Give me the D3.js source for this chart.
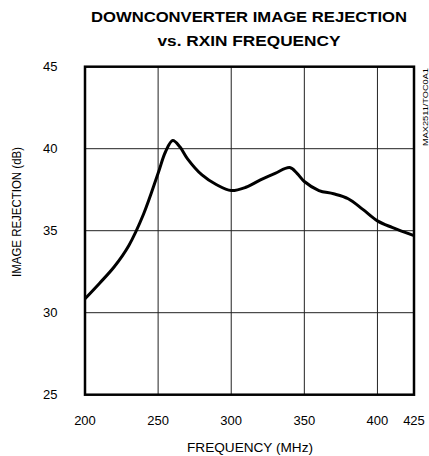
<!DOCTYPE html>
<html><head><meta charset="utf-8">
<script src="https://cdn.jsdelivr.net/npm/d3@7"></script>
<style>body{margin:0;background:#fff}svg{display:block}text{font-family:"Liberation Sans",Arial,sans-serif;fill:#000}</style>
</head><body>
<script>
const freq = [200,210,220,230,240,250,255,260,265,270,280,290,300,310,320,330,340,345,350,360,370,380,390,400,410,425];
const rejection = [30.85,31.8,32.8,34.1,36.0,38.5,39.8,40.5,40.1,39.4,38.4,37.8,37.45,37.65,38.1,38.5,38.85,38.5,38.0,37.45,37.25,36.95,36.3,35.6,35.2,34.7];
const xTicks = [200,250,300,350,400,425];
const yTicks = [25,30,35,40,45];
const titleLines = ["DOWNCONVERTER IMAGE REJECTION","vs. RXIN FREQUENCY"];

const W=429,H=456, L=85,R=414,T=66.7,B=394.7;
const svg=d3.select("body").append("svg").attr("width",W).attr("height",H);
const x=d3.scaleLinear().domain([200,425]).range([L,R]);
const y=d3.scaleLinear().domain([25,45]).range([B,T]);

svg.append("g").selectAll("line.v").data(xTicks.slice(1,-1)).join("line")
 .attr("x1",d=>x(d)).attr("x2",d=>x(d)).attr("y1",T).attr("y2",B).attr("stroke","#222").attr("stroke-width",1);
svg.append("g").selectAll("line.h").data(yTicks.slice(1,-1)).join("line")
 .attr("y1",d=>y(d)).attr("y2",d=>y(d)).attr("x1",L).attr("x2",R).attr("stroke","#222").attr("stroke-width",1);

const line=d3.line().x((d,i)=>x(freq[i])).y(d=>y(d)).curve(d3.curveCatmullRom.alpha(0.5));
svg.append("path").datum(rejection).attr("d",line).attr("fill","none").attr("stroke","#000").attr("stroke-width",3).attr("stroke-linejoin","round");

svg.append("rect").attr("x",L).attr("y",T).attr("width",R-L).attr("height",B-T).attr("fill","none").attr("stroke","#000").attr("stroke-width",2.5);

svg.append("g").selectAll("text").data(yTicks).join("text")
 .attr("x",43).attr("y",d=>y(d)+4.5).attr("font-size",13).text(d=>d);
svg.append("g").selectAll("text").data(xTicks).join("text")
 .attr("x",d=>x(d)).attr("y",424.5).attr("text-anchor","middle").attr("font-size",13).text(d=>d);

svg.append("text").attr("x",250).attr("y",452).attr("text-anchor","middle").attr("font-size",13)
 .attr("textLength",126).attr("lengthAdjust","spacingAndGlyphs").text("FREQUENCY (MHz)");
svg.append("text").attr("transform","translate(21,212) rotate(-90)").attr("text-anchor","middle").attr("font-size",12)
 .attr("textLength",130).attr("lengthAdjust","spacingAndGlyphs").text("IMAGE REJECTION (dB)");
svg.append("text").attr("transform","translate(428,107) rotate(-90)").attr("text-anchor","middle").attr("font-size",7.5)
 .attr("textLength",78).attr("lengthAdjust","spacingAndGlyphs").text("MAX2511/TOC0A1");

const tl=[316,183];
svg.append("g").selectAll("text").data(titleLines).join("text")
 .attr("x",249).attr("y",(d,i)=>22+i*23.5).attr("text-anchor","middle").attr("font-size",15.5).attr("font-weight","bold")
 .attr("textLength",(d,i)=>tl[i]).attr("lengthAdjust","spacingAndGlyphs").text(d=>d);
</script>
</body></html>
